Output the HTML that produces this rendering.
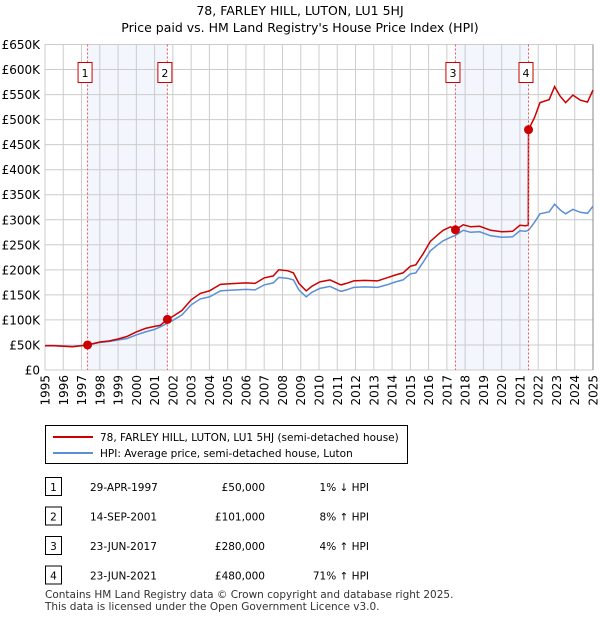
<!DOCTYPE html>
<html><head><meta charset="utf-8"><style>
body{margin:0;background:#fff;font-family:"Liberation Sans","DejaVu Sans",sans-serif;}
svg text{font-family:"DejaVu Sans","Liberation Sans",sans-serif;}
</style></head><body>
<svg id="c" width="600" height="620" viewBox="0 0 600 620" xmlns="http://www.w3.org/2000/svg">
<text x="300" y="15" text-anchor="middle" font-size="12.5">78, FARLEY HILL, LUTON, LU1 5HJ</text>
<text x="300" y="32" text-anchor="middle" font-size="12.5">Price paid vs. HM Land Registry's House Price Index (HPI)</text>
<g id="shade"></g><g id="grid"></g><g id="axes"></g><g id="lines"></g><g id="marks"></g>
<g>
<rect x="45.5" y="425.5" width="362" height="38" fill="#fff" stroke="#000" stroke-width="1"/>
<line x1="53" y1="437" x2="93" y2="437" stroke="#cc0000" stroke-width="2"/>
<text x="100" y="441" font-size="10.5">78, FARLEY HILL, LUTON, LU1 5HJ (semi-detached house)</text>
<line x1="53" y1="453" x2="93" y2="453" stroke="#5b8fd6" stroke-width="2"/>
<text x="100" y="457" font-size="10.5">HPI: Average price, semi-detached house, Luton</text>
</g>
<g id="table" font-size="10.5"></g>
<text x="45" y="598" font-size="10.5" fill="#333">Contains HM Land Registry data © Crown copyright and database right 2025.</text>
<text x="45" y="610" font-size="10.5" fill="#333">This data is licensed under the Open Government Licence v3.0.</text>
</svg>
<script>
const years=[1995,1995.5,1996,1996.5,1997,1997.33,1998,1998.5,1999,1999.5,2000,2000.5,2001,2001.3,2001.7,2002,2002.5,2003,2003.5,2004,2004.6,2005,2005.5,2006,2006.5,2007,2007.5,2007.8,2008.3,2008.6,2008.9,2009.3,2009.6,2010.05,2010.6,2011.2,2011.5,2011.9,2012.5,2013.2,2013.7,2014.2,2014.6,2015.0,2015.3,2015.7,2016.1,2016.5,2016.8,2017.2,2017.47,2017.9,2018.3,2018.8,2019.4,2020.0,2020.6,2021.0,2021.3,2021.46,2021.47,2021.8,2022.1,2022.6,2022.9,2023.2,2023.5,2023.9,2024.3,2024.7,2025.0];
const hpi=[49,49,48,47,49,50.5,55,57,60,63,70,76,81,86,93.5,99,110,130,142,146,158,159,160,161,160,170,174,185,183,180,160,146,155,163,167,157,160,165,166,165,170,176,180,192,194,215,238,250,258,265,269,279,275,276,268,265,266,278,277,279,279,295,312,316,331,320,312,321,315,313,327];
const price=[48.5,48.5,47.5,46.5,48.5,50,56,58,62,67,76,83,87,89,101,107,119,140,153,158,171,172,173,174,173,184,188,200,198,194,173,158,167,176,180,170,173,178,179,178,184,190,194,207,210,232,257,270,279,286,280,290,286,287,279,276,277,289,288,289,480,504,534,540,566,547,534,549,539,535,559];
const saleYears=[1997.33,2001.7,2017.47,2021.47];
const salePrices=[50,101,280,480];
const saleLabels=["1","2","3","4"];
const saleDates=["29-APR-1997","14-SEP-2001","23-JUN-2017","23-JUN-2021"];
const salePriceText=["£50,000","£101,000","£280,000","£480,000"];
const saleHpiText=["1% ↓ HPI","8% ↑ HPI","4% ↑ HPI","71% ↑ HPI"];
const yTicks=[0,50,100,150,200,250,300,350,400,450,500,550,600,650];
const shadeRanges=[[1997.33,2001.7],[2017.47,2021.47]];
const X0=45,X1=593,Y0=370,Y1=44.5;
const x=v=>X0+(v-1995)*(X1-X0)/30;
const y=v=>Y0-v*(Y0-Y1)/650;
const NS="http://www.w3.org/2000/svg";
function mk(t,a,p){const e=document.createElementNS(NS,t);for(const k in a)e.setAttribute(k,a[k]);p.appendChild(e);return e;}
const G=id=>document.getElementById(id);
shadeRanges.forEach(r=>{const e=mk('rect',{x:x(r[0]),y:Y1,width:x(r[1])-x(r[0]),height:Y0-Y1,fill:'#f3f6fd'},G('shade'));

});
for(let yr=1995;yr<=2025;yr++){const e=mk('line',{x1:x(yr),x2:x(yr),y1:Y1,y2:Y0,stroke:'#cccccc','stroke-width':1},G('grid'));


const t=mk('text',{x:0,y:0,'font-size':12,'text-anchor':'end',transform:`translate(${x(yr)+4.5},${Y0+5}) rotate(-90)`},G('axes'));t.textContent=yr;

}
yTicks.forEach(v=>{const e=mk('line',{x1:X0,x2:X1,y1:y(v),y2:y(v),stroke:'#cccccc','stroke-width':1},G('grid'));


const t=mk('text',{x:X0-5,y:y(v)+4.5,'font-size':12,'text-anchor':'end'},G('axes'));t.textContent=v===0?'£0':'£'+v+'K';

});
const ax=mk('line',{x1:X1,x2:X1,y1:Y1,y2:Y0,stroke:'#888','stroke-width':1},G('axes'));


function path(vals){return vals.map((v,i)=>(i?'L':'M')+x(years[i]).toFixed(1)+','+y(v).toFixed(1)).join('');}
const hl=mk('path',{d:path(hpi),fill:'none',stroke:'#5b8fd6','stroke-width':1.5},G('lines'));


const pl=mk('path',{d:path(price),fill:'none',stroke:'#cc0000','stroke-width':1.5},G('lines'));


saleYears.forEach((yr,i)=>{
const l=mk('line',{x1:x(yr),x2:x(yr),y1:Y1,y2:Y0,stroke:'#e55','stroke-width':1,'stroke-dasharray':'2,2'},G('marks'));


const d=mk('circle',{cx:x(yr),cy:y(salePrices[i]),r:4.5,fill:'#cc0000'},G('marks'));


const b=mk('rect',{x:x(yr)-9.5,y:62.5,width:14,height:20,fill:'#fff',stroke:'#cc0000'},G('marks'));


const t=mk('text',{x:x(yr)-2.5,y:77,'font-size':11,'text-anchor':'middle'},G('marks'));t.textContent=saleLabels[i];


const ry=487+i*29.5;
const tb=mk('rect',{x:45.5,y:ry-9.5,width:16,height:18,fill:'#fff',stroke:'#000'},G('table'));


const cells=[[53.5,saleLabels[i],'middle','table-row-number'],[90,saleDates[i],'start','table-date'],[265,salePriceText[i],'end','table-price'],[369,saleHpiText[i],'end','table-hpi-change']];
cells.forEach(c=>{const e=mk('text',{x:c[0],y:ry+4,'text-anchor':c[2]},G('table'));e.textContent=c[1];

});
});
</script>
</body></html>
